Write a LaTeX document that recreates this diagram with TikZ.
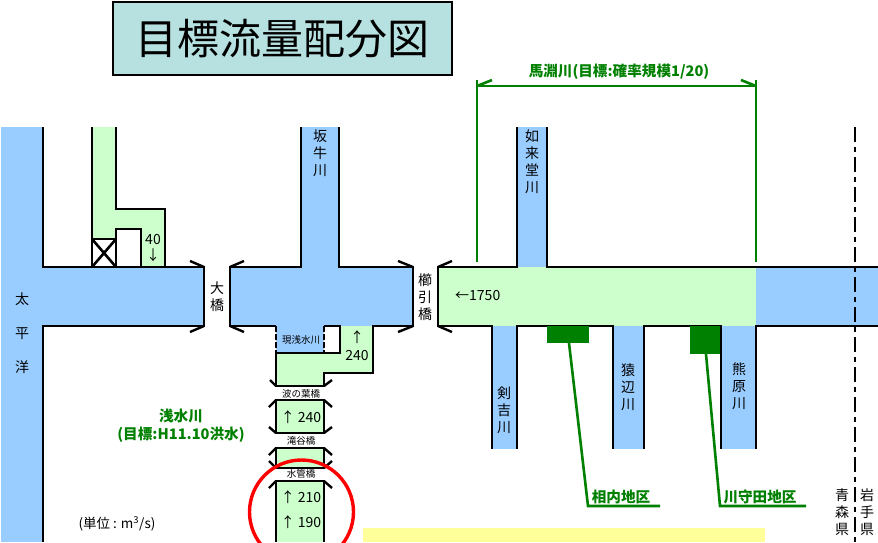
\documentclass[tikz,border=0pt]{standalone}
\usepackage{fontspec}
\setmainfont{Noto Sans CJK JP}
\definecolor{riverblue}{HTML}{99CCFF}
\definecolor{targetgreen}{HTML}{CCFFCC}
\definecolor{titleteal}{HTML}{B7E1E1}
\definecolor{darkgreen}{HTML}{008000}
\definecolor{softyellow}{HTML}{FFFF99}
\newcommand{\fsz}[2]{\fontsize{#1}{#2}\selectfont}
\tikzset{
  bank/.style={draw=black,line width=2.6pt,line cap=butt},
  bridge/.style={draw=black,line width=2.4pt,line join=miter},
  blue/.style={fill=riverblue,draw=none},
  green/.style={fill=targetgreen,draw=none},
  guide/.style={draw=darkgreen,line width=2.6pt},
  lab/.style={inner sep=0pt,align=center,font=\fsz{14}{17},text=black},
  tiny/.style={inner sep=0pt,font=\fsz{9.5}{10},text=black},
  gtext/.style={inner sep=0pt,align=center,font=\fsz{14.6}{18}\bfseries,text=darkgreen},
}
\begin{document}
\begin{tikzpicture}[x=1pt,y=-1pt]
\useasboundingbox (0,0) rectangle (878,542);
% title
\node[draw=black,line width=2.4pt,fill=titleteal,minimum width=339pt,minimum height=73pt,inner sep=0pt,font=\fsz{42}{46},anchor=center] (title) at (282.5,38.5) {\raisebox{-4pt}{目標流量配分図}};
% water fills
\fill[blue] (1,127) rectangle (43,542);
\fill[blue] (43,267) rectangle (204,326);
\fill[blue] (230,267) rectangle (413,326);
\fill[blue] (301,127) rectangle (339,267);
\fill[blue] (276,326) rectangle (324,353);
\fill[blue] (517,127) rectangle (547,267);
\fill[blue] (756,267) rectangle (878,326);
\fill[blue] (492,326) rectangle (517,449);
\fill[blue] (613,326) rectangle (644,449);
\fill[blue] (721,326) rectangle (756,449);
\fill[green] (438,267) rectangle (756,326);
\fill[green] (92,127) -- (116,127) -- (116,209) -- (165,209) -- (165,267) -- (141,267) -- (141,229) -- (116,229) -- (116,239) -- (92,239) -- cycle;
\fill[green] (276,353) -- (340,353) -- (340,326) -- (373,326) -- (373,373) -- (324,373) -- (324,386) -- (276,386) -- cycle;
\fill[green] (276,400) rectangle (324,433);
\fill[green] (276,448) rectangle (324,468);
\fill[green] (276,481) rectangle (324,542);
\fill[softyellow] (363,528) rectangle (765,542);
% left part
\draw[bank] (43,127) -- (43,267) -- (204,267) -- (204,326) -- (43,326) -- (43,542);
\draw[bank] (92,127) -- (92,267);
\draw[bank] (116,127) -- (116,209) -- (165,209) -- (165,267);
\draw[bank] (116,267) -- (116,229) -- (141,229) -- (141,267);
\draw[bank] (92,239) rectangle (116,267);
\draw[bank] (92,239) -- (116,267) (116,239) -- (92,267);
\draw[bridge] (190,261) -- (204,267) (190,332) -- (204,326);
% middle part
\draw[bank] (301,127) -- (301,267) -- (230,267) -- (230,326) -- (276,326);
\draw[bank] (339,127) -- (339,267) -- (413,267) -- (413,326) -- (373,326) -- (373,373) -- (324,373) -- (324,386) -- (276,386) -- (276,353) -- (340,353) -- (340,326) -- (324,326);
\draw[bank,dash pattern=on 6pt off 2pt] (276,326) -- (276,353);
\draw[bank,dash pattern=on 6pt off 2pt] (324,326) -- (324,353);
\draw[bridge] (244,261) -- (230,267) (244,332) -- (230,326);
\draw[bridge] (398,261) -- (413,267) (398,332) -- (413,326);
\draw[bridge] (270,380) -- (276,386) (332,380) -- (324,386);
\draw[black!85,line width=.8pt] (275,399) -- (325,399);
% lower channel blocks
\draw[bank] (276,400) rectangle (324,433);
\draw[bridge] (269,407) -- (276,400) (332,407) -- (324,400) (269,427) -- (276,433) (332,427) -- (324,433);
\draw[bank] (276,448) rectangle (324,468);
\draw[bridge] (269,455) -- (276,448) (332,455) -- (324,448) (269,461) -- (276,468) (332,461) -- (324,468);
\draw[bank] (276,542) -- (276,481) -- (324,481) -- (324,542);
\draw[bridge] (269,488) -- (276,481) (332,488) -- (324,481);
\draw[red,line width=3.4pt] (301.5,512) circle (52);
% right part
\draw[bank] (517,127) -- (517,267) -- (438,267) -- (438,326) -- (492,326) -- (492,449);
\draw[bank] (547,127) -- (547,267) -- (878,267);
\draw[bank] (517,449) -- (517,326) -- (613,326) -- (613,449);
\draw[bank] (644,449) -- (644,326) -- (721,326) -- (721,449);
\draw[bank] (756,449) -- (756,326) -- (878,326);
\draw[bridge] (452,261) -- (438,267) (452,332) -- (438,326);
% districts
\fill[darkgreen] (547,326) rectangle (589,343);
\fill[darkgreen] (690,326) rectangle (720,354);
\draw[guide] (569,343) -- (588,506) -- (660,506);
\draw[guide] (706,354) -- (720,506) -- (806,506);
% Mabechi bracket
\draw[guide] (477,80) -- (477,262);
\draw[guide] (756,80) -- (756,262);
\draw[guide] (477,86) -- (756,86);
\draw[guide] (477,86) -- (492,80) (756,86) -- (741,80);
% prefecture border
\draw[black,line width=2.4pt,dash pattern=on 15pt off 5pt on 5pt off 5pt] (855,127) -- (855,542);
% labels
\node[lab] (taihei1) at (22,299) {太};
\node[lab] (taihei2) at (22,334) {平};
\node[lab] (taihei3) at (22,367) {洋};
\node[lab] (ohashi) at (217,296.5) {大\\橋};
\node[lab] (kushibiki) at (425,297) {櫛\\引\\橋};
\node[lab] (sakaushi) at (320,153) {坂\\牛\\川};
\node[lab] (nyorai) at (532,162) {如\\来\\堂\\川};
\node[lab] (tsurugi) at (504,410.5) {剣\\吉\\川};
\node[lab] (saruhe) at (628,387) {猿\\辺\\川};
\node[lab] (kumahara) at (739,386.5) {熊\\原\\川};
\node[lab] (aomori) at (842,512.5) {青\\森\\県};
\node[lab] (iwate) at (867,512.5) {岩\\手\\県};
\node[lab,font=\fsz{14}{16}] (q40) at (153,248) {40\\↓};
\node[lab,font=\fsz{14}{18}] (q240a) at (357,346) {↑\\240};
\node[lab,anchor=west] (q1750) at (455,296) {←1750};
\node[lab] (q240b) at (301,417) {↑ 240};
\node[lab] (q210) at (301,497) {↑ 210};
\node[lab] (q190) at (301,522) {↑ 190};
\node[tiny] (genasa) at (301,340) {現浅水川};
\node[tiny] (namino) at (301,393.5) {波の葉橋};
\node[tiny] (takiya) at (301,441) {滝谷橋};
\node[tiny] (suikan) at (301,474) {水管橋};
\node[gtext] (asamizu) at (181,426) {浅水川\\(目標:H11.10洪水)};
\node[gtext] (mabechi) at (619,72) {馬淵川(目標:確率規模1/20)};
\node[gtext] (aiuchi) at (621,497) {相内地区};
\node[gtext] (kawamo) at (760,497) {川守田地区};
\node[lab,font=\fsz{13.5}{15}] (unit) at (117,524) {(単位 : m\textsuperscript{3}/s)};
\end{tikzpicture}
\end{document}
